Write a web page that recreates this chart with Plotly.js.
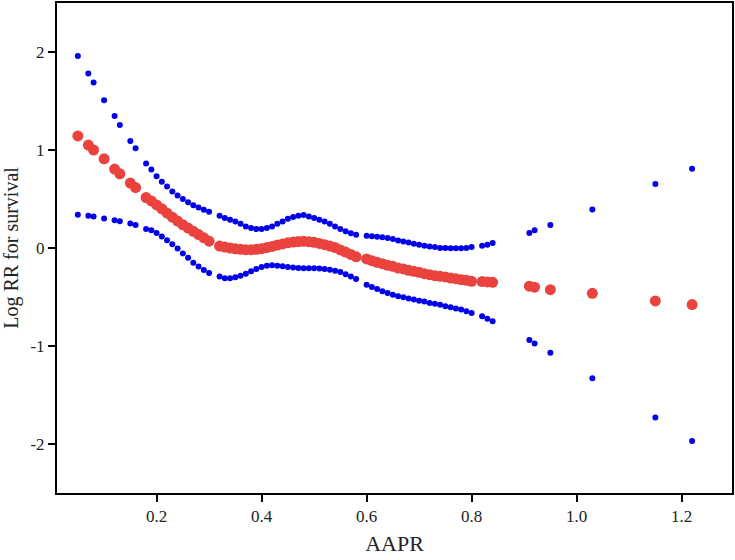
<!DOCTYPE html>
<html>
<head>
<meta charset="utf-8">
<script src="https://cdn.plot.ly/plotly-3.0.1.min.js"></script>
<style>html,body{margin:0;padding:0;background:#fff;}#chart{width:735px;height:560px;}</style>
</head>
<body>
<div id="chart"></div>
<script>
const aapr = [0.05,0.07,0.08,0.10,0.12,0.13,0.15,0.16,0.18,0.19,0.20,0.21,0.22,0.23,0.24,0.25,0.26,0.27,0.28,0.29,0.30,
  0.32,0.33,0.34,0.35,0.36,0.37,0.38,0.39,0.40,0.41,0.42,0.43,0.44,0.45,0.46,0.47,0.48,0.49,0.50,0.51,0.52,0.53,0.54,0.55,0.56,0.57,0.58,
  0.60,0.61,0.62,0.63,0.64,0.65,0.66,0.67,0.68,0.69,0.70,0.71,0.72,0.73,0.74,0.75,0.76,0.77,0.78,0.79,0.80,
  0.82,0.83,0.84,0.91,0.92,0.95,1.03,1.15,1.22];

const logRR = [1.144,1.05,1.0,0.91,0.805,0.757,0.662,0.617,0.515,0.48,0.44,0.40,0.355,0.315,0.275,0.237,0.203,0.17,0.137,0.104,0.07,
  0.02,0.01,0.0,-0.008,-0.014,-0.017,-0.017,-0.013,-0.007,0.004,0.016,0.03,0.042,0.053,0.061,0.066,0.068,0.065,0.058,0.047,0.034,0.02,0.004,-0.02,-0.042,-0.066,-0.09,
  -0.112,-0.129,-0.146,-0.16,-0.177,-0.187,-0.204,-0.214,-0.228,-0.238,-0.248,-0.262,-0.272,-0.282,-0.289,-0.295,-0.306,-0.313,-0.323,-0.33,-0.34,
  -0.342,-0.346,-0.35,-0.39,-0.40,-0.425,-0.462,-0.54,-0.577];

const upperCI = [1.958,1.78,1.69,1.507,1.347,1.256,1.093,1.018,0.862,0.80,0.733,0.677,0.627,0.576,0.535,0.50,0.468,0.437,0.412,0.39,0.371,
  0.329,0.305,0.288,0.271,0.247,0.22,0.204,0.193,0.193,0.204,0.22,0.247,0.271,0.298,0.316,0.329,0.336,0.322,0.305,0.288,0.271,0.247,0.22,0.193,0.17,0.15,0.135,
  0.125,0.12,0.115,0.11,0.102,0.092,0.077,0.067,0.057,0.044,0.034,0.023,0.016,0.01,0.0,0.0,-0.003,-0.003,-0.003,0.0,0.01,
  0.023,0.034,0.051,0.153,0.18,0.234,0.393,0.652,0.808];

const lowerCI = [0.339,0.33,0.322,0.302,0.283,0.273,0.25,0.235,0.195,0.18,0.152,0.118,0.08,0.038,-0.005,-0.055,-0.1,-0.15,-0.19,-0.225,-0.255,
  -0.292,-0.308,-0.309,-0.298,-0.282,-0.262,-0.238,-0.214,-0.193,-0.18,-0.177,-0.18,-0.187,-0.193,-0.2,-0.204,-0.207,-0.207,-0.207,-0.21,-0.214,-0.221,-0.231,-0.245,-0.268,-0.292,-0.316,
  -0.374,-0.397,-0.418,-0.442,-0.458,-0.476,-0.493,-0.503,-0.516,-0.526,-0.537,-0.547,-0.56,-0.57,-0.58,-0.595,-0.605,-0.618,-0.628,-0.646,-0.662,
  -0.696,-0.723,-0.747,-0.94,-0.975,-1.07,-1.33,-1.73,-1.97];

const xTickVals = [0.2,0.4,0.6,0.8,1.0,1.2];
const xTickText = ['0.2','0.4','0.6','0.8','1.0','1.2'];
const yTickVals = [2,1,0,-1,-2];
const yTickText = ['2','1','0','-1','-2'];

const blue = 'rgb(0,0,235)';
const red = 'rgb(234,67,62)';
const serif = 'Liberation Serif, Times New Roman, serif';

const traces = [
  {x: aapr, y: lowerCI, type: 'scatter', mode: 'markers', marker: {color: blue, size: 6}, hoverinfo: 'x+y'},
  {x: aapr, y: upperCI, type: 'scatter', mode: 'markers', marker: {color: blue, size: 6}, hoverinfo: 'x+y'},
  {x: aapr, y: logRR, type: 'scatter', mode: 'markers', marker: {color: red, size: 11}, hoverinfo: 'x+y'}
];

const axisCommon = {
  showgrid: false, zeroline: false, showline: true, linecolor: '#000', linewidth: 2, mirror: true,
  ticks: 'outside', ticklen: 7, tickwidth: 2, tickcolor: '#000',
  tickfont: {family: serif, size: 17, color: '#222'}, tickmode: 'array'
};

const layout = {
  width: 735, height: 560,
  margin: {l: 57, r: 3, t: 3, b: 67},
  paper_bgcolor: '#fff', plot_bgcolor: '#fff',
  showlegend: false,
  xaxis: Object.assign({}, axisCommon, {
    range: [0.0103, 1.296], tickvals: xTickVals, ticktext: xTickText,
    title: {text: 'AAPR', font: {family: serif, size: 22, color: '#222'}, standoff: 10}
  }),
  yaxis: Object.assign({}, axisCommon, {
    range: [-2.5, 2.5], tickvals: yTickVals, ticktext: yTickText,
    title: {text: 'Log RR for survival', font: {family: serif, size: 20, color: '#222'}, standoff: 8}
  })
};

Plotly.newPlot('chart', traces, layout, {displayModeBar: false, staticPlot: true});
</script>
</body>
</html>
